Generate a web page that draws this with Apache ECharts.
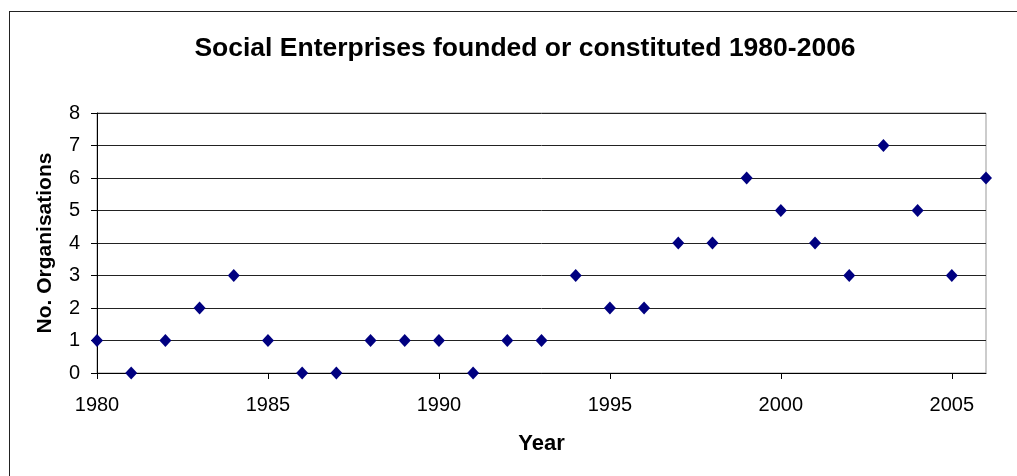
<!DOCTYPE html>
<html>
<head>
<meta charset="utf-8">
<script src="https://cdn.jsdelivr.net/npm/echarts@6/dist/echarts.min.js"></script>
<style>
  html, body { margin: 0; padding: 0; background: #fff; }
  #main { width: 1017px; height: 476px; }
  #frame { position: absolute; left: 9px; top: 11px; width: 1020px; height: 480px; border: 1px solid #222; box-sizing: border-box; pointer-events: none; }
</style>
</head>
<body>
<div id="main"></div>
<div id="frame"></div>
<script>
// years and counts
var years = [1980, 1981, 1982, 1983, 1984, 1985, 1986, 1987, 1988, 1989, 1990, 1991, 1992,
  1993, 1994, 1995, 1996, 1997, 1998, 1999, 2000, 2001, 2002, 2003, 2004, 2005, 2006];
var counts = [1, 0, 1, 2, 3, 1, 0, 0, 1, 1, 1, 0, 1, 1, 3, 2, 2, 4, 4, 6, 5, 4, 3, 7, 5, 3, 6];
var yearTicks = [1980, 1985, 1990, 1995, 2000, 2005];

var points = years.map(function (y, i) { return [y, counts[i]]; });

var myChart = echarts.init(document.getElementById('main'), null, { renderer: 'canvas' });

var font = 'Liberation Sans, Arial, sans-serif';

var option = {
  animation: false,
  title: {
    text: 'Social Enterprises founded or constituted 1980-2006',
    left: 520,
    top: 30,
    textAlign: 'center',
    textStyle: { fontFamily: font, fontSize: 26.5, fontWeight: 'bold', color: '#000' }
  },
  grid: { left: 97, right: 31, top: 113, bottom: 103, show: true, borderColor: '#999', borderWidth: 1 },
  xAxis: {
    type: 'value',
    min: 1980,
    max: 2006,
    interval: 5,
    name: 'Year',
    nameLocation: 'middle',
    nameGap: 60,
    nameTextStyle: { fontFamily: font, fontSize: 22, fontWeight: 'bold', color: '#000' },
    axisLine: { show: true, lineStyle: { color: '#000', width: 1 } },
    axisTick: { show: true, length: 6, inside: false, customValues: yearTicks, lineStyle: { color: '#000' } },
    axisLabel: {
      customValues: yearTicks, margin: 22, fontFamily: font, fontSize: 20, color: '#000',
      formatter: function (v) { return String(v); }
    },
    splitLine: { show: false }
  },
  yAxis: {
    type: 'value',
    min: 0,
    max: 8,
    interval: 1,
    name: 'No. Organisations',
    nameLocation: 'middle',
    nameGap: 41,
    nameTextStyle: { fontFamily: font, fontSize: 21, fontWeight: 'bold', color: '#000' },
    axisLine: { show: true, lineStyle: { color: '#000', width: 1 } },
    axisTick: { show: true, length: 6, lineStyle: { color: '#000' } },
    axisLabel: { margin: 17, fontFamily: font, fontSize: 20, color: '#000' },
    splitLine: { show: true, lineStyle: { color: '#222', width: 1 } }
  },
  series: [{
    type: 'scatter',
    data: points,
    symbol: 'diamond',
    symbolSize: [12, 13],
    itemStyle: { color: '#000080', opacity: 1 },
    clip: false
  }]
};

myChart.setOption(option);
</script>
</body>
</html>
